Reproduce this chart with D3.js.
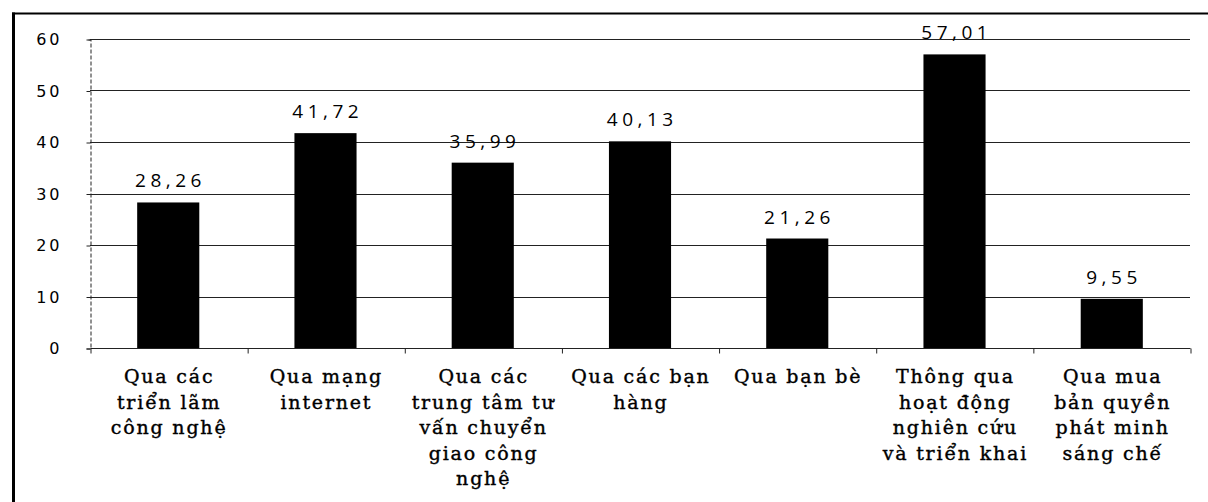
<!DOCTYPE html>
<html><head><meta charset="utf-8">
<script src="https://cdn.jsdelivr.net/npm/d3@7"></script>
<style>
html,body{margin:0;padding:0;background:#fff;}
svg{display:block;}
</style></head>
<body>
<svg id="c" width="1208" height="502"></svg>
<script>
const categories = [
  ["Qua các","triển lãm","công nghệ"],
  ["Qua mạng","internet"],
  ["Qua các","trung tâm tư","vấn chuyển","giao công","nghệ"],
  ["Qua các bạn","hàng"],
  ["Qua bạn bè"],
  ["Thông qua","hoạt động","nghiên cứu","và triển khai"],
  ["Qua mua","bản quyền","phát minh","sáng chế"]
];
const values = [28.26, 41.72, 35.99, 40.13, 21.26, 57.01, 9.55];
const valueLabels = ["28,26","41,72","35,99","40,13","21,26","57,01","9,55"];
const yTicks = [0,10,20,30,40,50,60];

const svg = d3.select("#c");
const x0 = 90, x1 = 1190, yTop = 39, yBot = 348;
const idx = d3.range(values.length);
const x = d3.scaleBand().domain(idx).range([x0, x1]).paddingInner(0.605).paddingOuter(0.3);
const y = d3.scaleLinear().domain([0, 60]).range([yBot, yTop]);

// frame
svg.append("line").attr("x1",12).attr("x2",1208).attr("y1",13.5).attr("y2",13.5).attr("stroke","#000").attr("stroke-width",2);
svg.append("line").attr("x1",13.5).attr("x2",13.5).attr("y1",12.5).attr("y2",502).attr("stroke","#000").attr("stroke-width",3);

// gridlines
svg.append("g").selectAll("line").data(yTicks.filter(d=>d>0)).join("line")
  .attr("x1",x0).attr("x2",x1).attr("y1",d=>Math.round(y(d))+0.5).attr("y2",d=>Math.round(y(d))+0.5)
  .attr("stroke","#222").attr("stroke-width",1);

// y axis
const yAxis = d3.axisLeft(y).tickValues(yTicks).tickSize(4).tickPadding(24).tickFormat(d3.format("d"));
const gy = svg.append("g").attr("transform",`translate(${x0+0.5},0.5)`).call(yAxis);
gy.select(".domain").attr("stroke","#222").attr("stroke-dasharray","4,2");
gy.selectAll(".tick line").attr("stroke","#222");
gy.selectAll("text").attr("font-family","'DejaVu Sans', sans-serif").attr("font-size",16)
  .attr("letter-spacing","3px").attr("fill","#000");

// bars
svg.append("g").selectAll("rect").data(idx).join("rect")
  .attr("x",i=>x(i)).attr("width",x.bandwidth())
  .attr("y",i=>y(values[i])).attr("height",i=>yBot-y(values[i]))
  .attr("fill","#000");

// x axis
const xb = d3.scaleLinear().domain([0, values.length]).range([x0, x1]);
const xAxis = d3.axisBottom(xb).tickValues(d3.range(values.length+1)).tickSize(5).tickFormat("");
const gx = svg.append("g").attr("transform",`translate(0.5,${yBot+0.5})`).call(xAxis);
gx.select(".domain").attr("stroke","#222").attr("d",`M${x0},0H${x1}`);
gx.selectAll(".tick line").attr("stroke","#222");

// value labels
svg.append("g").selectAll("text").data(idx).join("text")
  .attr("x",i=>x(i)+x.bandwidth()/2+2.25).attr("y",i=>y(values[i])-15)
  .attr("text-anchor","middle").attr("font-family","'Open Sans', sans-serif").attr("font-size",19)
  .attr("letter-spacing","4.5px").attr("fill","#000").text(i=>valueLabels[i]);

// category labels
const cl = svg.append("g").selectAll("text").data(idx).join("text")
  .attr("text-anchor","middle").attr("font-family","'DejaVu Serif', serif").attr("font-size",19)
  .attr("letter-spacing","1.8px").attr("fill","#000").attr("stroke","#000").attr("stroke-width",0.4);
cl.selectAll("tspan").data(i=>categories[i].map(t=>({t,i}))).join("tspan")
  .attr("x",d=>x(d.i)+x.bandwidth()/2+0.9).attr("y",(d,j)=>383+j*25.5).text(d=>d.t);
</script>
</body></html>
